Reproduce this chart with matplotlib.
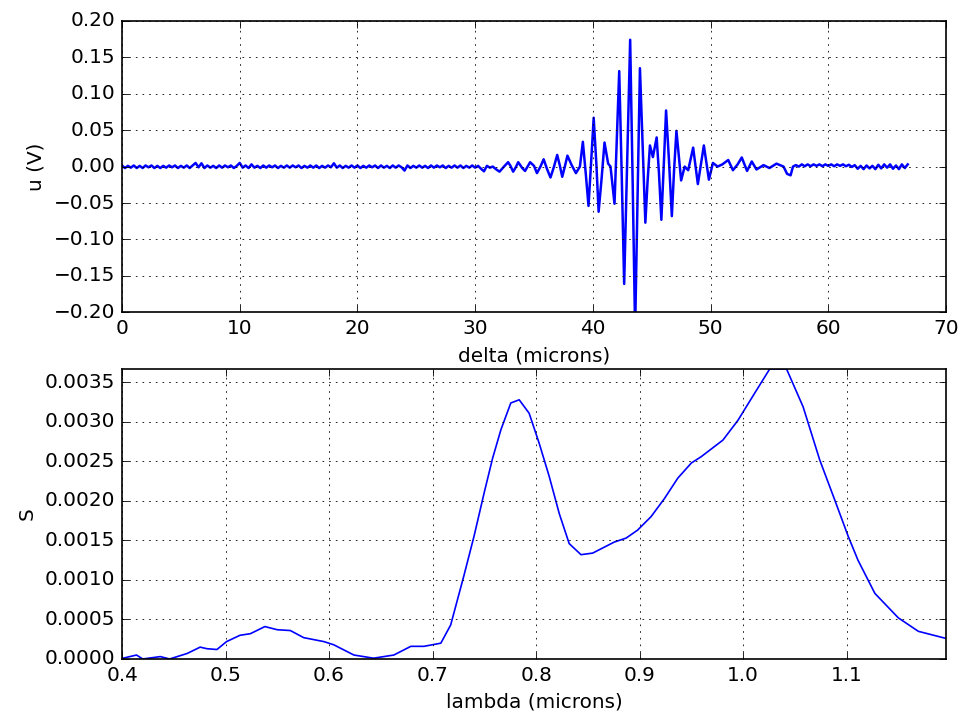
import numpy as np
import matplotlib
matplotlib.use('Agg')
import matplotlib.pyplot as plt

# 干涉图: 左侧平坦段 (delta 0 ~ 31.25, 步长 0.25)
u_left = [
    0.0015, -0.0020, 0.0010, -0.0015, 0.0015, -0.0020, 0.0010, -0.0020, 0.0015, -0.0010,
    0.0015, -0.0020, 0.0010, -0.0020, 0.0010, -0.0015, 0.0015, -0.0010, 0.0015, -0.0020,
    0.0010, -0.0015, 0.0015, -0.0020, 0.0015, 0.0050, -0.0010, 0.0045, -0.0020, 0.0015,
    -0.0015, 0.0010, -0.0020, 0.0015, -0.0015, 0.0015, -0.0010, 0.0015, -0.0020, 0.0010,
    0.0050, -0.0015, 0.0015, -0.0020, 0.0030, -0.0015, 0.0010, -0.0020, 0.0015, -0.0015,
    0.0015, -0.0010, 0.0015, -0.0020, 0.0010, -0.0015, 0.0015, -0.0015, 0.0015, -0.0010,
    0.0015, -0.0020, 0.0010, -0.0015, 0.0015, -0.0015, 0.0015, -0.0020, 0.0010, -0.0015,
    0.0015, -0.0010, 0.0045, -0.0015, 0.0015, -0.0020, 0.0010, -0.0015, 0.0015, -0.0015,
    0.0015, -0.0020, 0.0010, -0.0015, 0.0015, -0.0010, 0.0015, -0.0020, 0.0015, -0.0015,
    0.0010, -0.0020, 0.0015, -0.0015, 0.0015, -0.0010, -0.0055, 0.0015, -0.0020, 0.0010,
    -0.0015, 0.0015, -0.0015, 0.0010, -0.0020, 0.0015, -0.0015, 0.0015, -0.0010, 0.0015,
    -0.0020, 0.0010, -0.0015, 0.0015, -0.0015, 0.0015, -0.0020, 0.0010, -0.0015, 0.0015,
    -0.0015, 0.0010, -0.0030, -0.0065, 0.0010, -0.0015,
]
delta_left = np.linspace(0, 31.25, len(u_left))

# 干涉图: 中间振荡段
delta_mid = [
    31.5, 31.8, 32.07, 32.45, 32.8, 33.0, 33.23, 33.45, 33.66, 34.0,
    34.24, 34.45, 34.67, 35.0, 35.25, 35.55, 35.82, 36.1, 36.4, 36.7,
    36.97, 37.2, 37.4, 37.62, 37.84, 38.2, 38.56, 38.9, 39.15, 39.4,
    39.63, 39.85, 40.07, 40.3, 40.49, 40.75, 40.99, 41.3, 41.5, 41.84,
    42.04, 42.24, 42.45, 42.66, 42.9, 43.17, 43.38, 43.59, 43.8, 44.0,
    44.23, 44.46, 44.65, 44.85, 45.1, 45.42, 45.62, 45.82, 46.02, 46.22,
    46.46, 46.71, 46.9, 47.1, 47.5, 47.8, 48.1, 48.52, 48.92, 49.43,
    49.86, 50.2, 50.6, 51.0, 51.5, 51.9, 52.3, 52.65, 53.1, 53.5,
    53.9, 54.5, 55.0, 55.6, 56.2, 56.5, 56.8, 57.0,
]
u_mid = [
    0.000, -0.004, -0.007, 0.000, 0.006, 0.001, -0.007, -0.001, 0.006, -0.002,
    -0.006, 0.000, 0.006, 0.001, -0.009, 0.000, 0.010, -0.003, -0.015, 0.000,
    0.016, 0.001, -0.014, 0.000, 0.015, 0.002, -0.009, 0.000, 0.034, -0.010,
    -0.054, 0.005, 0.067, 0.003, -0.062, -0.015, 0.033, 0.004, 0.000, -0.051,
    0.040, 0.131, -0.010, -0.161, -0.005, 0.174, -0.020, -0.225, -0.040, 0.135,
    0.030, -0.077, -0.020, 0.029, 0.013, 0.040, -0.010, -0.073, 0.000, 0.077,
    0.010, -0.068, -0.005, 0.049, -0.019, 0.000, -0.005, 0.026, -0.024, 0.029,
    -0.018, 0.005, 0.000, 0.003, 0.009, -0.005, 0.003, 0.0125, -0.006, 0.007,
    -0.004, 0.002, -0.002, 0.004, 0.000, -0.010, -0.012, 0.000,
]

# 干涉图: 右侧平坦段 (delta 57.25 ~ 66.75, 步长 0.25)
u_right = [
    0.0020, 0.0000, 0.0030, 0.0005, 0.0030, 0.0005, 0.0030, 0.0010, 0.0030, 0.0005,
    0.0030, 0.0010, 0.0030, 0.0005, 0.0030, 0.0010, 0.0030, 0.0005, 0.0025, -0.0005,
    0.0020, -0.0030, 0.0010, -0.0035, 0.0015, -0.0025, 0.0010, -0.0035, 0.0025, -0.0025,
    0.0030, -0.0015, 0.0030, -0.0030, 0.0015, -0.0035, 0.0030, -0.0020, 0.0030,
]
delta_right = np.linspace(57.25, 66.75, len(u_right))

delta = np.concatenate([delta_left, delta_mid, delta_right])
u = np.concatenate([u_left, u_mid, u_right])

# 光谱
lam = [
    0.401, 0.414, 0.420, 0.437, 0.446, 0.463, 0.4755, 0.482, 0.4917, 0.501,
    0.514, 0.524, 0.538, 0.550, 0.5626, 0.5755, 0.595, 0.6045, 0.624, 0.643,
    0.6626, 0.679, 0.6917, 0.708, 0.7175, 0.730, 0.740, 0.7498, 0.758, 0.766,
    0.7756, 0.7837, 0.7933, 0.803, 0.8127, 0.8224, 0.832, 0.8434, 0.8547, 0.8756,
    0.887, 0.898, 0.911, 0.924, 0.937, 0.950, 0.9595, 0.9805, 0.995, 1.011,
    1.0257, 1.042, 1.058, 1.074, 1.0886, 1.1016, 1.111, 1.1273, 1.150, 1.1693,
    1.196,
]
S = [
    0.00001, 0.00005, 0.00000, 0.00003, 0.00000, 0.00007, 0.00015, 0.00013, 0.00012, 0.00022,
    0.00030, 0.00032, 0.00041, 0.00037, 0.00036, 0.00027, 0.00022, 0.00018, 0.00005, 0.00001,
    0.00005, 0.00016, 0.00016, 0.00020, 0.00043, 0.00104, 0.00155, 0.00210, 0.00254, 0.00290,
    0.00324, 0.00328, 0.00311, 0.00273, 0.00231, 0.00184, 0.00146, 0.00132, 0.00134, 0.00148,
    0.00153, 0.00163, 0.00180, 0.00203, 0.00229, 0.00248, 0.00256, 0.00277, 0.00302, 0.00336,
    0.00367, 0.00367, 0.00319, 0.00252, 0.00201, 0.00155, 0.00125, 0.00083, 0.00052, 0.00035,
    0.00026,
]

plt.style.use('classic')
plt.rcParams['figure.facecolor'] = 'white'
plt.rcParams['savefig.facecolor'] = 'white'
plt.rcParams['font.family'] = ['DejaVu Sans']

fig = plt.figure(figsize=(8, 718 / 120), dpi=120)

ax1 = fig.add_axes([0.1271, 0.565, 0.8583, 0.406])
ax1.plot(delta, u, color='b', linewidth=1.5)
ax1.set_xlim(0, 70)
ax1.set_ylim(-0.2, 0.2)
ax1.set_xlabel('delta (microns)')
ax1.set_ylabel('u (V)')
ax1.grid(True)

ax2 = fig.add_axes([0.1271, 0.0822, 0.8583, 0.4039])
ax2.plot(lam, S, color='b', linewidth=1.0)
ax2.set_xlim(0.4, 1.196)
ax2.set_ylim(0, 0.00367)
ax2.set_xticks([0.4, 0.5, 0.6, 0.7, 0.8, 0.9, 1.0, 1.1])
ax2.set_yticks([0, 0.0005, 0.001, 0.0015, 0.002, 0.0025, 0.003, 0.0035])
ax2.set_xlabel('lambda (microns)')
ax2.set_ylabel('S')
ax2.grid(True)

fig.savefig('out.png', dpi=120)
